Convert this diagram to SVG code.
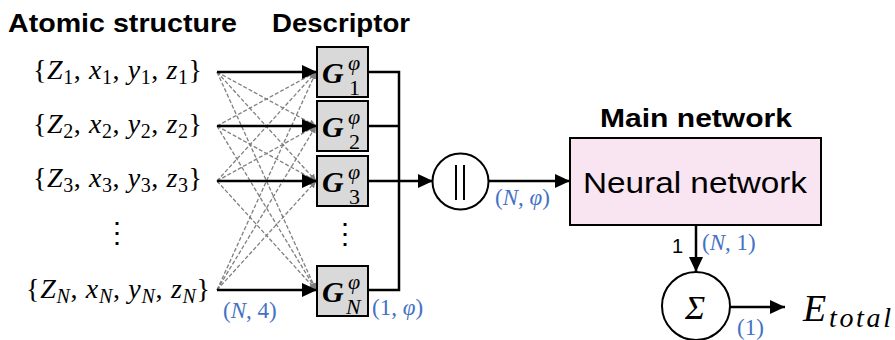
<svg xmlns="http://www.w3.org/2000/svg" width="895" height="340" viewBox="0 0 895 340">
<style>
.title{font-family:"Liberation Sans",Arial,sans-serif;font-weight:bold;font-size:25px;fill:#000}
.math{font-family:"Liberation Serif","Times New Roman",serif;font-size:28px;fill:#000}
.sub{font-size:20px}
.it{font-style:italic}
.blue{font-family:"Liberation Serif","Times New Roman",serif;font-size:23px;fill:#4472C4}
.box{fill:#D9D9D9;stroke:#000;stroke-width:2}
.solid{stroke:#000;stroke-width:2.5;fill:none}
.dash{stroke:#7F7F7F;stroke-width:1.3;stroke-dasharray:4 2;fill:none}
.circ{fill:#fff;stroke:#000;stroke-width:2}
.g{font-family:"Liberation Serif","Times New Roman",serif;fill:#000}
.gG{font-size:30px;font-weight:bold;font-style:italic}
.gs{font-size:22px}
</style>
<defs>
<marker id="ah" markerUnits="userSpaceOnUse" markerWidth="16" markerHeight="14" refX="15" refY="7" orient="auto">
<path d="M0,0 L15,7 L0,14 z" fill="#000"/>
</marker>
<marker id="ahg" markerUnits="userSpaceOnUse" markerWidth="8" markerHeight="8" refX="7" refY="3.5" orient="auto">
<path d="M0,0 L7,3.5 L0,7 z" fill="#7F7F7F"/>
</marker>
</defs>

<text class="title" x="8" y="32" textLength="229" lengthAdjust="spacingAndGlyphs">Atomic structure</text>
<text class="title" x="272" y="32" textLength="138" lengthAdjust="spacingAndGlyphs">Descriptor</text>
<text class="title" x="600" y="127" textLength="192" lengthAdjust="spacingAndGlyphs">Main network</text>

<g id="atoms">
<text class="math" x="33" y="79" textLength="169">{<tspan class="it">Z</tspan><tspan class="sub" dy="5">1</tspan><tspan dy="-5">, </tspan><tspan class="it">x</tspan><tspan class="sub" dy="5">1</tspan><tspan dy="-5">, </tspan><tspan class="it">y</tspan><tspan class="sub" dy="5">1</tspan><tspan dy="-5">, </tspan><tspan class="it">z</tspan><tspan class="sub" dy="5">1</tspan><tspan dy="-5">}</tspan></text>
<text class="math" x="33" y="133" textLength="169">{<tspan class="it">Z</tspan><tspan class="sub" dy="5">2</tspan><tspan dy="-5">, </tspan><tspan class="it">x</tspan><tspan class="sub" dy="5">2</tspan><tspan dy="-5">, </tspan><tspan class="it">y</tspan><tspan class="sub" dy="5">2</tspan><tspan dy="-5">, </tspan><tspan class="it">z</tspan><tspan class="sub" dy="5">2</tspan><tspan dy="-5">}</tspan></text>
<text class="math" x="33" y="187" textLength="169">{<tspan class="it">Z</tspan><tspan class="sub" dy="5">3</tspan><tspan dy="-5">, </tspan><tspan class="it">x</tspan><tspan class="sub" dy="5">3</tspan><tspan dy="-5">, </tspan><tspan class="it">y</tspan><tspan class="sub" dy="5">3</tspan><tspan dy="-5">, </tspan><tspan class="it">z</tspan><tspan class="sub" dy="5">3</tspan><tspan dy="-5">}</tspan></text>
<text class="math" x="117" y="242" text-anchor="middle">⋮</text>
<text class="math" x="26" y="298" textLength="184">{<tspan class="it">Z</tspan><tspan class="sub it" dy="5">N</tspan><tspan dy="-5">, </tspan><tspan class="it">x</tspan><tspan class="sub it" dy="5">N</tspan><tspan dy="-5">, </tspan><tspan class="it">y</tspan><tspan class="sub it" dy="5">N</tspan><tspan dy="-5">, </tspan><tspan class="it">z</tspan><tspan class="sub it" dy="5">N</tspan><tspan dy="-5">}</tspan></text>
</g>

<g id="connectors">
<g class="dash">
<line x1="217" y1="72" x2="316" y2="126" marker-end="url(#ahg)"/>
<line x1="217" y1="72" x2="316" y2="181" marker-end="url(#ahg)"/>
<line x1="217" y1="72" x2="316" y2="290" marker-end="url(#ahg)"/>
<line x1="217" y1="126" x2="316" y2="72" marker-end="url(#ahg)"/>
<line x1="217" y1="126" x2="316" y2="181" marker-end="url(#ahg)"/>
<line x1="217" y1="126" x2="316" y2="290" marker-end="url(#ahg)"/>
<line x1="217" y1="181" x2="316" y2="72" marker-end="url(#ahg)"/>
<line x1="217" y1="181" x2="316" y2="126" marker-end="url(#ahg)"/>
<line x1="217" y1="181" x2="316" y2="290" marker-end="url(#ahg)"/>
<line x1="217" y1="290" x2="316" y2="72" marker-end="url(#ahg)"/>
<line x1="217" y1="290" x2="316" y2="126" marker-end="url(#ahg)"/>
<line x1="217" y1="290" x2="316" y2="181" marker-end="url(#ahg)"/>
</g>
<line class="solid" x1="217" y1="72" x2="317" y2="72" marker-end="url(#ah)"/>
<line class="solid" x1="217" y1="126" x2="317" y2="126" marker-end="url(#ah)"/>
<line class="solid" x1="217" y1="181" x2="317" y2="181" marker-end="url(#ah)"/>
<line class="solid" x1="217" y1="290" x2="317" y2="290" marker-end="url(#ah)"/>
<path class="solid" d="M368,72 H399 V290 H368"/>
<path class="solid" d="M368,126 H399"/>
<line class="solid" x1="368" y1="181" x2="433" y2="181" marker-end="url(#ah)"/>
<line class="solid" x1="489" y1="181" x2="570" y2="181" marker-end="url(#ah)"/>
<line class="solid" x1="696" y1="225" x2="696" y2="272" marker-end="url(#ah)"/>
<line class="solid" x1="730" y1="307" x2="785" y2="307" marker-end="url(#ah)"/>
<text class="blue" x="223" y="318"><tspan>(</tspan><tspan class="it">N</tspan><tspan>, 4)</tspan></text>
<text class="blue" x="372" y="315"><tspan>(1, </tspan><tspan class="it">φ</tspan><tspan>)</tspan></text>
<text class="blue" x="495" y="205"><tspan>(</tspan><tspan class="it">N</tspan><tspan>, </tspan><tspan class="it">φ</tspan><tspan>)</tspan></text>
<text x="683" y="253" text-anchor="end" font-family="Liberation Sans,Arial,sans-serif" font-size="20">1</text>
<text class="blue" x="702" y="250"><tspan>(</tspan><tspan class="it">N</tspan><tspan>, 1)</tspan></text>
<text class="blue" x="737" y="335">(1)</text>
</g>

<g id="G1">
<rect class="box" x="317" y="47" width="51" height="50"/>
<text class="g gG" x="322" y="83">G</text>
<text class="g gs it" x="348" y="70">φ</text>
<text class="g gs" x="349" y="95">1</text>
</g>
<g id="G2">
<rect class="box" x="317" y="101" width="51" height="50"/>
<text class="g gG" x="322" y="137">G</text>
<text class="g gs it" x="348" y="124">φ</text>
<text class="g gs" x="349" y="149">2</text>
</g>
<g id="G3">
<rect class="box" x="317" y="156" width="51" height="50"/>
<text class="g gG" x="322" y="192">G</text>
<text class="g gs it" x="348" y="179">φ</text>
<text class="g gs" x="349" y="204">3</text>
</g>
<text class="math" x="345" y="243" text-anchor="middle">⋮</text>
<g id="GN">
<rect class="box" x="317" y="266" width="51" height="50"/>
<text class="g gG" x="322" y="302">G</text>
<text class="g gs it" x="348" y="289">φ</text>
<text class="g gs it" x="346" y="314">N</text>
</g>

<g id="concat">
<circle class="circ" cx="460.5" cy="181.5" r="28"/>
<line x1="456" y1="165" x2="456" y2="200" stroke="#000" stroke-width="2"/>
<line x1="464" y1="165" x2="464" y2="200" stroke="#000" stroke-width="2"/>
</g>

<g id="main">
<rect x="570" y="138" width="251" height="87" fill="#F9E4F1" stroke="#000" stroke-width="2"/>
<text x="583" y="193" font-family="Liberation Sans,Arial,sans-serif" font-size="30" textLength="224" lengthAdjust="spacingAndGlyphs">Neural network</text>
</g>

<g id="sum">
<circle class="circ" cx="696" cy="306" r="34"/>
<text x="695" y="319" text-anchor="middle" style="font-family:'Liberation Serif','Times New Roman',serif;font-style:italic;font-size:34px">Σ</text>
</g>

<g id="output">
<text x="803" y="321" style="font-family:'Liberation Serif','Times New Roman',serif;font-style:italic;font-size:38px" textLength="88">E<tspan dy="6" style="font-size:28px">total</tspan></text>
</g>
</svg>
